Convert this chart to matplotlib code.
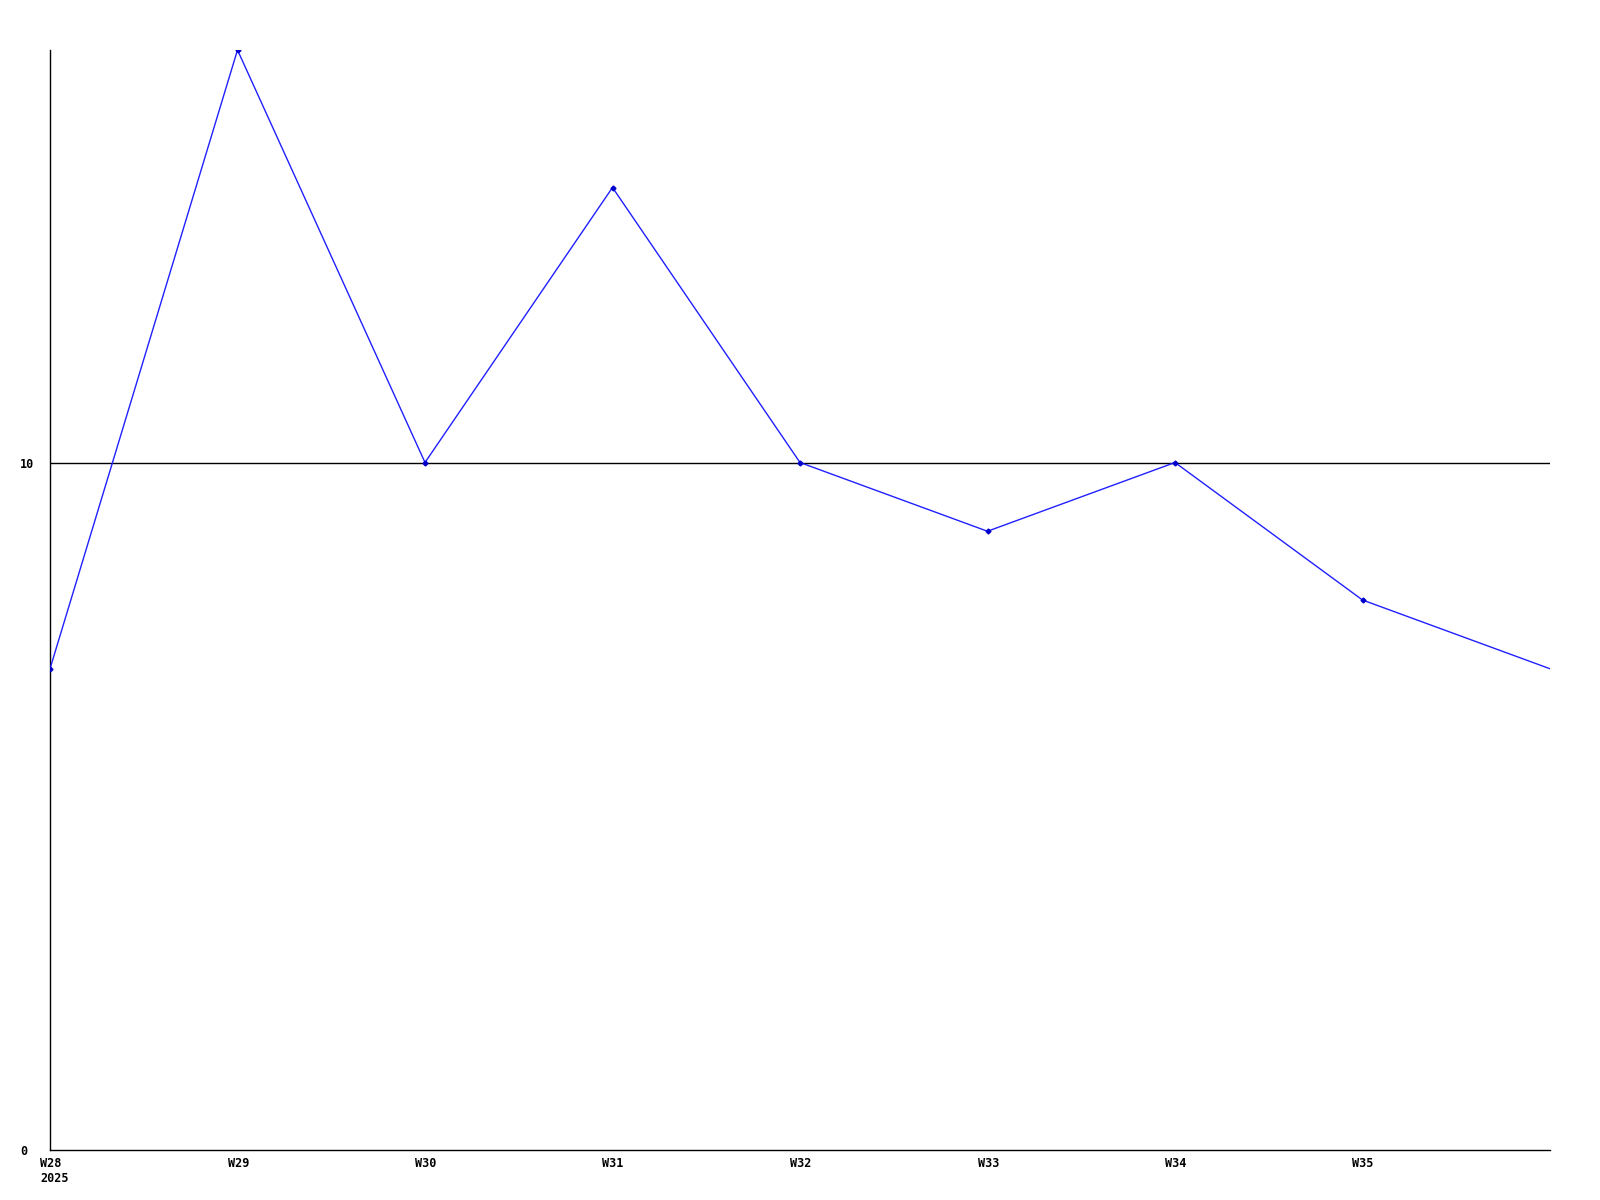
import matplotlib
matplotlib.use("Agg")
import matplotlib.pyplot as plt

# Weekly values
weeks = ["W28", "W29", "W30", "W31", "W32", "W33", "W34", "W35", "W36"]
values = [7, 16, 10, 14, 10, 9, 10, 8, 7]
tick_labels = ["W28\n2025", "W29", "W30", "W31", "W32", "W33", "W34", "W35"]
y_ticks = [0, 10]

fig = plt.figure(figsize=(16, 12), dpi=100)
ax = fig.add_axes([50 / 1600, 1 - 1150 / 1200, 1500 / 1600, 1100 / 1200])

x = list(range(len(weeks)))
ax.plot(x, values, color="#2020ff", linewidth=1, marker="D", markersize=2.5,
        markerfacecolor="#0000cc", markeredgecolor="#0000cc",
        markevery=list(range(len(weeks) - 1)), zorder=3)

# single reference line at 10
ax.axhline(10, color="black", linewidth=1, zorder=2)

ax.set_xlim(0, 8)
ax.set_ylim(0, 16)

for s in ["top", "right"]:
    ax.spines[s].set_visible(False)
for s in ["left", "bottom"]:
    ax.spines[s].set_linewidth(1)

ax.set_xticks(x[:-1])
ax.set_xticklabels(tick_labels, family="DejaVu Sans Mono", fontweight="bold",
                   fontsize=8.5, ha="left", linespacing=1.2)
ax.set_yticks(y_ticks)
ax.set_yticklabels([str(v) for v in y_ticks], family="DejaVu Sans Mono",
                   fontweight="bold", fontsize=8.5, ha="left")
ax.tick_params(axis="x", length=0, pad=5)
ax.tick_params(axis="y", length=0, pad=21.5)
shift = matplotlib.transforms.ScaledTranslation(-10 / 100, 0, fig.dpi_scale_trans)
for lbl in ax.get_xticklabels():
    lbl.set_transform(lbl.get_transform() + shift)

plt.savefig("out.png", dpi=100)
plt.close()
